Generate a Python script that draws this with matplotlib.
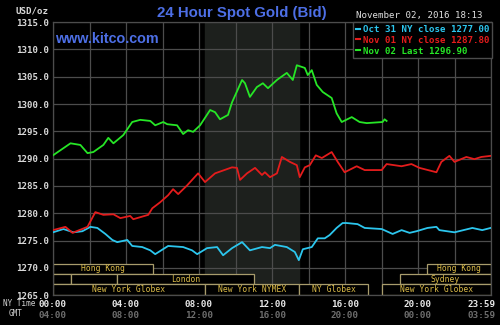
import matplotlib
matplotlib.use('Agg')
import matplotlib.pyplot as plt
from matplotlib.patches import Rectangle
from matplotlib.lines import Line2D
from matplotlib.transforms import ScaledTranslation

# hours after 00:00 NY time, and bid price (USD/oz)
oct31_t = [0.00, 0.57, 1.12, 1.61, 2.05, 2.43, 2.87, 3.25, 3.52, 4.07, 4.34, 4.89,
           5.33, 5.60, 6.31, 7.13, 7.62, 7.90, 8.44, 8.99, 9.32, 9.81, 10.36, 10.79,
           11.45, 11.89, 12.16, 12.81, 13.25, 13.47, 13.69, 14.18, 14.51, 14.89,
           15.16, 15.54, 15.87, 16.09, 16.69, 17.08, 18.01, 18.61, 19.10, 19.54,
           19.92, 20.52, 21.01, 21.17, 22.00, 22.98, 23.52, 23.98]
oct31_p = [1276.5, 1277.1, 1276.5, 1276.7, 1277.5, 1277.3, 1276.2, 1275.1, 1274.7,
           1275.1, 1274.0, 1273.8, 1273.2, 1272.5, 1274.0, 1273.8, 1273.2, 1272.5,
           1273.6, 1273.8, 1272.3, 1273.6, 1274.7, 1273.2, 1273.8, 1273.6, 1274.2,
           1273.8, 1272.9, 1271.4, 1273.4, 1273.8, 1275.4, 1275.4, 1276.0, 1277.3,
           1278.2, 1278.2, 1278.0, 1277.3, 1277.1, 1276.2, 1276.9, 1276.4, 1276.7,
           1277.3, 1277.5, 1276.9, 1276.5, 1277.3, 1276.9, 1277.3]

nov01_t = [0.00, 0.68, 1.07, 1.89, 2.32, 2.76, 3.31, 3.69, 4.23, 4.40, 5.22, 5.44,
           5.87, 6.31, 6.58, 6.86, 7.35, 7.95, 8.33, 8.88, 9.81, 10.08, 10.25, 10.63,
           11.07, 11.45, 11.61, 11.89, 12.27, 12.54, 12.98, 13.36, 13.52, 13.80,
           14.07, 14.40, 14.73, 15.27, 15.60, 15.98, 16.64, 17.08, 18.01, 18.28,
           19.10, 19.64, 20.08, 21.01, 21.28, 21.72, 22.00, 22.65, 23.09, 23.47, 23.98]
nov01_p = [1276.9, 1277.5, 1276.4, 1277.5, 1280.2, 1279.7, 1279.8, 1279.1, 1279.5,
           1278.9, 1279.7, 1280.9, 1282.0, 1283.3, 1284.4, 1283.5, 1285.1, 1287.3,
           1285.7, 1287.3, 1288.4, 1288.3, 1286.1, 1287.3, 1288.3, 1287.0, 1287.5,
           1286.6, 1287.3, 1290.3, 1289.4, 1288.8, 1286.6, 1288.4, 1288.8, 1290.6,
           1290.1, 1291.2, 1289.4, 1287.5, 1288.6, 1287.9, 1287.9, 1289.0, 1288.6,
           1289.0, 1288.3, 1287.5, 1289.4, 1290.5, 1289.4, 1290.3, 1289.9, 1290.3, 1290.5]

nov02_t = [0.00, 0.96, 1.50, 1.89, 2.21, 2.76, 3.03, 3.31, 3.85, 4.34, 4.78, 5.33,
           5.60, 6.04, 6.26, 6.80, 7.13, 7.40, 7.68, 8.06, 8.61, 8.88, 9.15, 9.59,
           9.81, 10.36, 10.52, 10.79, 11.17, 11.50, 11.78, 12.27, 12.81, 13.14, 13.36,
           13.80, 13.96, 14.18, 14.45, 14.78, 15.27, 15.54, 15.82, 16.37, 16.80,
           17.19, 18.06, 18.17, 18.28]
nov02_p = [1290.6, 1292.8, 1292.5, 1291.0, 1291.2, 1292.5, 1293.8, 1292.8, 1294.3,
           1296.7, 1297.1, 1296.9, 1296.1, 1296.7, 1296.3, 1296.1, 1294.5, 1295.2,
           1294.9, 1296.1, 1298.9, 1298.5, 1297.2, 1298.0, 1300.3, 1304.4, 1303.8,
           1301.3, 1303.1, 1303.8, 1302.9, 1304.4, 1305.7, 1304.4, 1307.1, 1306.6,
           1305.3, 1306.2, 1303.5, 1302.2, 1301.1, 1298.3, 1296.7, 1297.6, 1296.7,
           1296.5, 1296.7, 1297.2, 1296.9]

legend_names = ['Oct 31 NY close', 'Nov 01 NY close', 'Nov 02 Last']
legend_values = [1277.00, 1287.80, 1296.90]
colors = ['#2cc6ee', '#e41c1c', '#26e626']

tick_hours = [0, 4, 8, 12, 16, 20, 24]
ny_labels = ['00:00', '04:00', '08:00', '12:00', '16:00', '20:00', '23:59']
gmt_labels = ['04:00', '08:00', '12:00', '16:00', '20:00', '00:00', '03:59']
y_ticks = [1265, 1270, 1275, 1280, 1285, 1290, 1295, 1300, 1305, 1310, 1315]

# trading sessions: (row, start hour, end hour, label)
sessions = [
    (2, 0.0, 5.5, 'Hong Kong'),
    (2, 20.5, 24.0, 'Hong Kong'),
    (1, 0.0, 1.0, ''),
    (1, 1.0, 3.5, ''),
    (1, 3.5, 11.0, 'London'),
    (1, 19.0, 24.0, 'Sydney'),
    (0, 0.0, 8.33, 'New York Globex'),
    (0, 8.33, 13.5, 'New York NYMEX'),
    (0, 13.5, 17.25, 'NY Globex'),
    (0, 18.0, 24.0, 'New York Globex'),
]
nymex_open = (8.33, 13.5)

mono = 'DejaVu Sans Mono'
sans = 'Liberation Sans'
grid_col = '#4c4c4c'

fig = plt.figure(figsize=(5, 3.25), dpi=100, facecolor='black')
ax = fig.add_axes([0.106, 0.092, 0.876, 0.840], facecolor='black')

ax.axvspan(nymex_open[0], nymex_open[1], color='#1d201d', zorder=0)
ax.set_xlim(0, 24)
ax.set_ylim(1265, 1315)
ax.set_xticks(range(0, 25, 2))
ax.set_yticks(y_ticks)
ax.set_yticklabels(['%.1f' % v for v in y_ticks], family=mono, fontweight='bold',
                   fontsize=6.6, color='#d8d8d8')
ax.set_xticklabels([])
ax.tick_params(length=0, pad=3)
ax.grid(True, color=grid_col, linewidth=0.9, zorder=1)
ax.set_axisbelow(True)
for s in ax.spines.values():
    s.set_color(grid_col)
    s.set_linewidth(0.9)

# session boxes at the bottom
row_h = 1.88
for row, start, end, label in sessions:
    y0 = 1265.1 + row * row_h
    ax.add_patch(Rectangle((start, y0), end - start, row_h, facecolor='black',
                           edgecolor='#a89c6c', linewidth=0.9, zorder=2))
    if label:
        ax.text((start + end) / 2, y0 + row_h / 2, label, family=mono,
                fontsize=5.8, color='#dcbc48', ha='center', va='center', zorder=3)

series = [(oct31_t, oct31_p), (nov01_t, nov01_p), (nov02_t, nov02_p)]
handles = []
for (t, p), c, name, val in zip(series, colors, legend_names, legend_values):
    ax.plot(t, p, color=c, linewidth=1.3, zorder=4)
    handles.append(Line2D([], [], color=c, linewidth=1.5,
                          label='%s %.2f' % (name, val)))

leg = ax.legend(handles=handles, loc='upper right', bbox_to_anchor=(1.002, 1.0),
                borderaxespad=0, frameon=True, fancybox=False, framealpha=1,
                facecolor='black', edgecolor=grid_col, handlelength=0.5,
                handletextpad=0.25, labelspacing=0.2, borderpad=0.3,
                labelcolor='linecolor',
                prop={'family': mono, 'weight': 'bold', 'size': 6.6})
leg.set_zorder(5)

# x axis labels: NY time and GMT rows
xt = ax.get_xaxis_transform()
for i, (h, ny, gmt) in enumerate(zip(tick_hours, ny_labels, gmt_labels)):
    tr = xt
    if i == len(tick_hours) - 1:
        tr = xt + ScaledTranslation(-9 / 100, 0, fig.dpi_scale_trans)
    ax.text(h, -0.033, ny, transform=tr, family=mono, fontweight='bold',
            fontsize=6.7, color='#e8e8e8', ha='center', va='center', clip_on=False)
    ax.text(h, -0.073, gmt, transform=tr, family=mono, fontweight='bold',
            fontsize=6.7, color='#6e6e6e', ha='center', va='center', clip_on=False)

fig.text(0.006, 0.065, 'NY Time', family=mono, fontsize=5.5, color='#d0d0d0',
         va='center')
fig.text(0.018, 0.034, 'GMT', family=mono, fontsize=5.5, color='#d0d0d0',
         va='center')
fig.text(0.032, 0.966, 'USD/oz', family=mono, fontweight='bold', fontsize=6.6,
         color='#d8d8d8', va='center')

fig.text(0.484, 0.96, '24 Hour Spot Gold (Bid)', family=sans, fontweight='bold',
         fontsize=10.8, color='#4d6fe6', ha='center', va='center')
fig.text(0.11, 0.88, 'www.kitco.com', family=sans, fontweight='bold',
         fontsize=10.4, color='#4d6fe6', va='center')
fig.text(0.839, 0.951, 'November 02, 2016 18:13', family=mono, fontsize=6.6,
         color='#e0e0e0', ha='center', va='center')

fig.savefig('out.png', dpi=100, facecolor='black')
plt.close(fig)
